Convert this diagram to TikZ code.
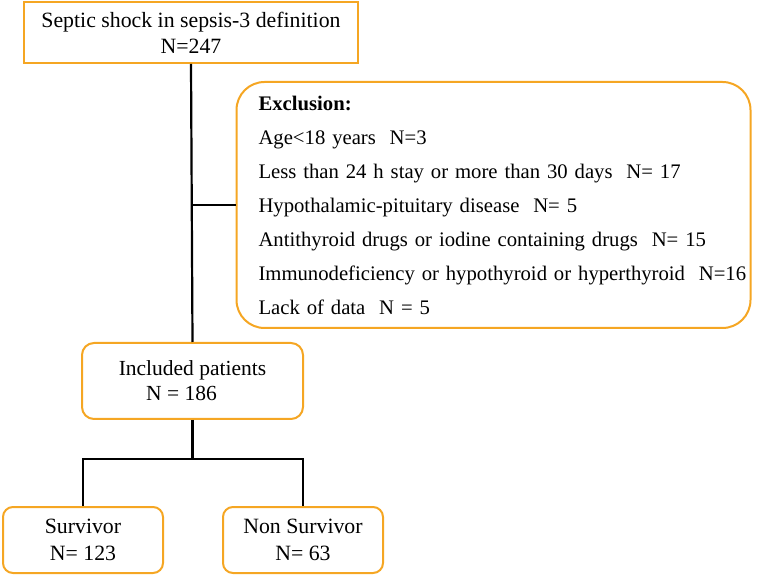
\documentclass[tikz,border=0pt]{standalone}
\usepackage{fontspec}
\setmainfont{Liberation Serif}
\usetikzlibrary{calc}
\definecolor{boxorange}{RGB}{245,166,35}
\begin{document}
\begin{tikzpicture}[x=1pt,y=-1pt,
  box/.style={draw=boxorange,line width=2pt,align=center,inner sep=0pt},
  conn/.style={draw=black,line width=2.2pt}]
\useasboundingbox (0,0) rectangle (769,577);
\node[box,minimum width=334pt,minimum height=61pt,font=\fontsize{21.8}{26}\selectfont] (top) at (191,32.5)
  {Septic shock in sepsis-3 definition\\N=247};
\node[box,rounded corners=28pt,minimum width=513pt,minimum height=246pt,text width=470pt,align=left,inner xsep=22pt,font=\fontsize{20.7}{34}\selectfont] (excl) at (493.5,205)
  {\textbf{Exclusion:}\\
   Age<18 years\ \ N=3\\
   Less than 24 h stay or more than 30 days\ \ N= 17\\
   Hypothalamic-pituitary disease\ \ N= 5\\
   Antithyroid drugs or iodine containing drugs\ \ N= 15\\
   \mbox{Immunodeficiency or hypothyroid or hyperthyroid\ \ N=16}\\
   Lack of data\ \ N = 5};
\node[box,rounded corners=12pt,minimum width=221pt,minimum height=76pt,font=\fontsize{21.5}{25}\selectfont] (incl) at (192.5,381)
  {Included patients\\\hspace*{-22pt}N = 186};
\node[box,rounded corners=10pt,minimum width=160pt,minimum height=66pt,font=\fontsize{21.8}{27}\selectfont] (surv) at (83,540)
  {Survivor\\N= 123};
\node[box,rounded corners=10pt,minimum width=160pt,minimum height=66pt,font=\fontsize{21.8}{27}\selectfont] (nons) at (303,540)
  {Non Survivor\\N= 63};
\draw[conn] (top.south) -- (incl.north);
\coordinate (j1) at (top.south |- excl.west);
\draw[conn] (j1) -- (excl.west);
\coordinate (j2) at ($(incl.south)+(0,39)$);
\draw[conn] (incl.south) -- (j2);
\draw[conn] (j2) -| (surv.north);
\draw[conn] (j2) -| (nons.north);
\end{tikzpicture}
\end{document}
